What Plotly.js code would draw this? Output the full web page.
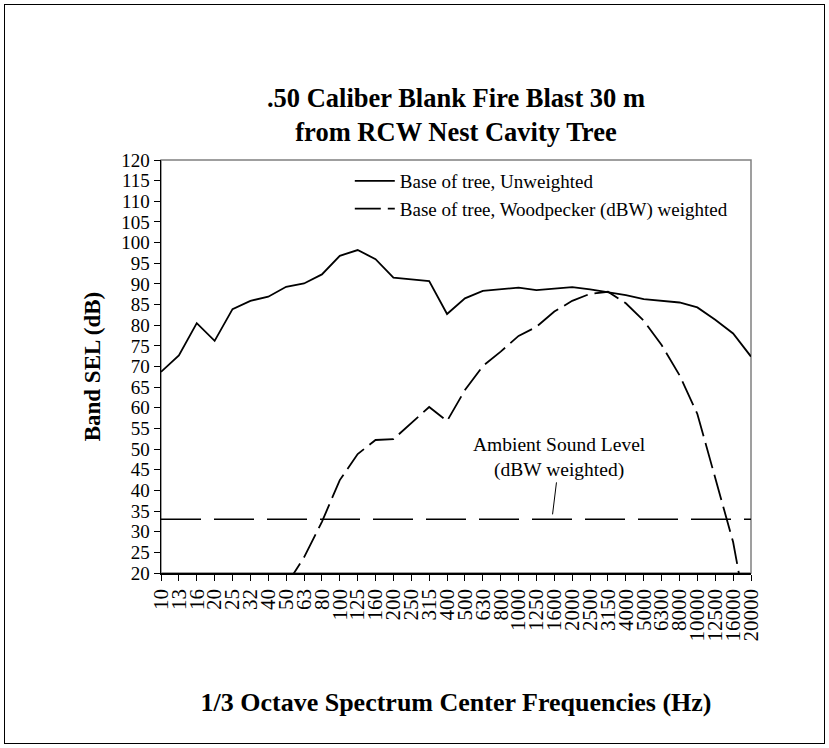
<!DOCTYPE html>
<html>
<head>
<meta charset="utf-8">
<script src="https://cdn.plot.ly/plotly-3.0.1.min.js"></script>
<style>
  html, body { margin: 0; padding: 0; background: #ffffff; }
  #wrap { position: relative; width: 829px; height: 748px; }
  #chart { position: absolute; left: 0; top: 0; width: 829px; height: 748px; }
  #frame { position: absolute; left: 4px; top: 4px; width: 819px; height: 738px; border: 1.5px solid #000; pointer-events: none; }
</style>
</head>
<body>
<div id="wrap">
  <div id="chart"></div>
  <div id="frame"></div>
</div>
<script>
// 1/3 octave centre frequencies (tick labels)
const freqLabels = ['10','13','16','20','25','32','40','50','63','80','100','125','160','200','250','315','400','500','630','800','1000','1250','1600','2000','2500','3150','4000','5000','6300','8000','10000','12500','16000','20000'];

// Base of tree, unweighted (dB)
const unweighted = [68.7,72.7,80.5,76.2,83.9,85.9,86.9,89.3,90.1,92.3,96.8,98.2,96.0,91.5,91.1,90.7,82.7,86.5,88.3,88.7,89.1,88.5,88.9,89.2,88.7,88.0,87.3,86.3,85.9,85.5,84.3,81.3,78.0,72.4];

// Base of tree, woodpecker (dBW) weighted (dB) - values below 20 dB are off-scale
const weighted = [null,null,null,null,null,null,null,17,23.8,32.4,42.5,48.8,52.2,52.4,56.2,60.2,56.8,64.3,70.1,73.6,77.4,79.6,83.3,85.9,87.6,88.1,85.3,81.1,75.2,67.9,58.5,43.3,27.5,4];

// Ambient sound level (dBW weighted)
const ambientX = ['10','20000'];
const ambientY = [33, 33];

const serif = 'Liberation Serif, Times New Roman, serif';

const traces = [
  {
    x: freqLabels, y: unweighted, type: 'scatter', mode: 'lines',
    name: 'Base of tree, Unweighted',
    line: { color: '#000', width: 1.8 }
  },
  {
    x: freqLabels, y: weighted, type: 'scatter', mode: 'lines',
    name: 'Base of tree, Woodpecker (dBW) weighted',
    connectgaps: false,
    line: { color: '#000', width: 1.8, dash: '26px,7px' }
  },
  {
    x: ambientX, y: ambientY, type: 'scatter', mode: 'lines',
    name: 'Ambient', showlegend: false,
    line: { color: '#000', width: 1.4, dash: '40px,13px' }
  }
];

const layout = {
  width: 829, height: 748,
  margin: { l: 161, r: 78, t: 160, b: 175 },
  paper_bgcolor: '#fff', plot_bgcolor: '#fff',
  font: { family: serif, color: '#000', size: 18 },
  title: {
    text: '<b>.50 Caliber Blank Fire Blast 30 m<br>from RCW Nest Cavity Tree</b>',
    font: { family: serif, size: 26.5, color: '#000' },
    x: 0.5, xanchor: 'center', xref: 'paper',
    y: 0.857, yanchor: 'middle', yref: 'container'
  },
  xaxis: {
    type: 'category',
    categoryorder: 'array', categoryarray: freqLabels,
    range: [0, freqLabels.length - 1],
    tickmode: 'linear', tick0: 0, dtick: 1,
    showgrid: false, zeroline: false,
    showline: true, linecolor: '#000', linewidth: 1.5,
    ticks: 'outside', ticklen: 6, tickcolor: '#000', tickwidth: 1,
    tickangle: -90,
    tickfont: { family: serif, size: 21, color: '#000' },
    title: {
      text: '<b>1/3 Octave Spectrum Center Frequencies (Hz)</b>',
      font: { family: serif, size: 26, color: '#000' },
      standoff: 52
    },
    automargin: false
  },
  yaxis: {
    range: [20, 120], dtick: 5, tick0: 20,
    showgrid: false, zeroline: false,
    showline: true, linecolor: '#000', linewidth: 1.5,
    ticks: 'outside', ticklen: 6, tickcolor: '#000', tickwidth: 1,
    tickfont: { family: serif, size: 19, color: '#000' },
    title: {
      text: '<b>Band SEL (dB)</b>',
      font: { family: serif, size: 23, color: '#000' },
      standoff: 14
    },
    automargin: false
  },
  legend: {
    x: 0.32, y: 0.995, xanchor: 'left', yanchor: 'top',
    bgcolor: 'rgba(0,0,0,0)', borderwidth: 0,
    font: { family: serif, size: 19, color: '#000' },
    tracegroupgap: 0, itemwidth: 40
  },
  shapes: [
    { type: 'rect', xref: 'paper', yref: 'paper', x0: 0, x1: 1, y0: 0, y1: 1,
      line: { color: '#808080', width: 1.5 }, layer: 'below' }
  ],
  annotations: [
    {
      x: 21.9, y: 34.2, xref: 'x', yref: 'y',
      text: 'Ambient Sound Level<br>(dBW weighted)',
      showarrow: true, arrowhead: 0, arrowwidth: 1, arrowcolor: '#000',
      ax: 7, ay: -57, standoff: 0,
      font: { family: serif, size: 19.5, color: '#000' },
      align: 'center'
    }
  ]
};

Plotly.newPlot('chart', traces, layout, { staticPlot: true, displayModeBar: false });
</script>
</body>
</html>
